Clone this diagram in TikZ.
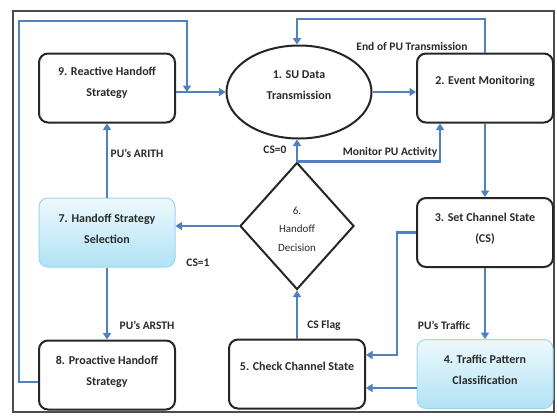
\documentclass[tikz,border=0pt]{standalone}
\usepackage{fontspec}
\setmainfont{Carlito}
\usetikzlibrary{shapes.geometric,arrows.meta}
\definecolor{flowblue}{HTML}{4F81BD}
\definecolor{txt}{HTML}{2A2A2A}
\definecolor{cyantop}{HTML}{EEF9FD}
\definecolor{cyanbot}{HTML}{B0E2F5}
\definecolor{cyanedge}{HTML}{9CD6EE}
\tikzset{
  box/.style={draw=black!85, line width=2pt, rounded corners=9pt,
    minimum width=136pt, minimum height=69pt, inner sep=0pt},
  cbox/.style={box, draw=cyanedge, line width=1pt, top color=cyantop, bottom color=cyanbot},
  ell/.style={draw=black!85, line width=2pt, ellipse, minimum width=145pt, minimum height=93pt,
    inner sep=0pt},
  dia/.style={draw=black!85, line width=2pt, diamond, minimum width=114pt, minimum height=127pt,
    inner sep=0pt},
  tx/.style={align=center, text=txt, inner sep=0pt,
    font=\bfseries\fontsize{12}{21}\selectfont},
  dtx/.style={align=center, text=txt, inner sep=0pt,
    font=\fontsize{11}{18.5}\selectfont},
  arr/.style={draw=flowblue, line width=2.2pt, -{Triangle[width=8pt,length=6.5pt]}},
  lbl/.style={text=txt, font=\bfseries\fontsize{11.5}{13}\selectfont, inner sep=0pt},
}
\begin{document}
\begin{tikzpicture}[x=1pt,y=-1pt]
\useasboundingbox (0,0) rectangle (557,416);
\fill[white] (0,0) rectangle (557,416);
\draw[draw=black!70, line width=2.6pt] (13,11) rectangle (554,412);

\node[box]  (b9) at (107,88)    {};
\node[ell]  (e1) at (299,92)    {};
\node[box]  (b2) at (485,88)    {};
\node[box]  (b3) at (485,232.5) {};
\node[cbox] (b4) at (485,374)   {};
\node[box]  (b5) at (297,374)   {};
\node[dia]  (d6) at (297,226)   {};
\node[cbox] (b7) at (107,232.5) {};
\node[box]  (b8) at (107,375)   {};

\node[tx]  (t9) at ([yshift=5pt]b9.center) {9. Reactive Handoff\\Strategy};
\node[tx]  (t1) at ([yshift=7pt]e1.center) {1. SU Data\\Transmission};
\node[tx]  (t2) at ([yshift=7pt]b2.center) {2. Event Monitoring};
\node[tx]  (t3) at ([yshift=4pt]b3.center) {3. Set Channel State\\(CS)};
\node[tx]  (t4) at ([yshift=4pt]b4.center) {4. Traffic Pattern\\Classification};
\node[tx]  (t5) at ([yshift=8pt]b5.center) {5. Check Channel State};
\node[dtx] (t6) at ([yshift=-3pt]d6.center) {6.\\Handoff\\Decision};
\node[tx]  (t7) at ([yshift=4pt]b7.center) {7. Handoff Strategy\\Selection};
\node[tx]  (t8) at ([yshift=3pt]b8.center) {8. Proactive Handoff\\Strategy};

\coordinate (tl) at (19,21);
\coordinate (tj) at (187,21);
\coordinate (tr) at (297,19);
\coordinate (c3) at (397,232.5);

% 9 -> 1
\draw[arr] (b9.east |- e1.west) -- (e1.west);
% 8 -> loop -> joins 9->1
\draw[arr] ([yshift=-7pt]b8.west) -| (tl) -- (tj) -- (tj |- e1.west);
% 2 -> top -> 1
\draw[arr] (b2.north) |- (tr) -- (tr |- e1.north);
% 1 -> 2
\draw[arr] (e1.east) -- (e1.east -| b2.west);
% 6 -> 2 (monitor)
\draw[arr] (d6.north) -| ([xshift=-45pt]b2.south);
% 6 -> 1 (CS=0)
\draw[arr] (d6.north) -- (d6.north |- e1.south);
% 2 -> 3
\draw[arr] (b2.south) -- (b3.north);
% 3 -> 5
\draw[arr] (b3.west) -- (c3) |- ([yshift=19pt]b5.east);
% 3 -> 4
\draw[arr] (b3.south) -- (b4.north);
% 4 -> 5
\draw[arr] ([yshift=-14pt]b4.west) -- ([yshift=-14pt]b5.east);
% 5 -> 6
\draw[arr] (b5.north) -- (d6.south);
% 6 -> 7
\draw[arr] (d6.west) -- (d6.west -| b7.east);
% 7 -> 9
\draw[arr] (b7.north) -- (b9.south);
% 7 -> 8
\draw[arr] (b7.south) -- (b8.north);

\node[lbl] (l1) at (412,47)  {End of PU Transmission};
\node[lbl] (l2) at (390,152) {Monitor PU Activity};
\node[lbl] (l3) at (275,150) {CS=0};
\node[lbl] (l4) at (137,153) {PU's ARITH};
\node[lbl] (l5) at (198,263) {CS=1};
\node[lbl] (l6) at (147,325) {PU's ARSTH};
\node[lbl] (l7) at (324,325) {CS Flag};
\node[lbl] (l8) at (444,325) {PU's Traffic};
\end{tikzpicture}
\end{document}
